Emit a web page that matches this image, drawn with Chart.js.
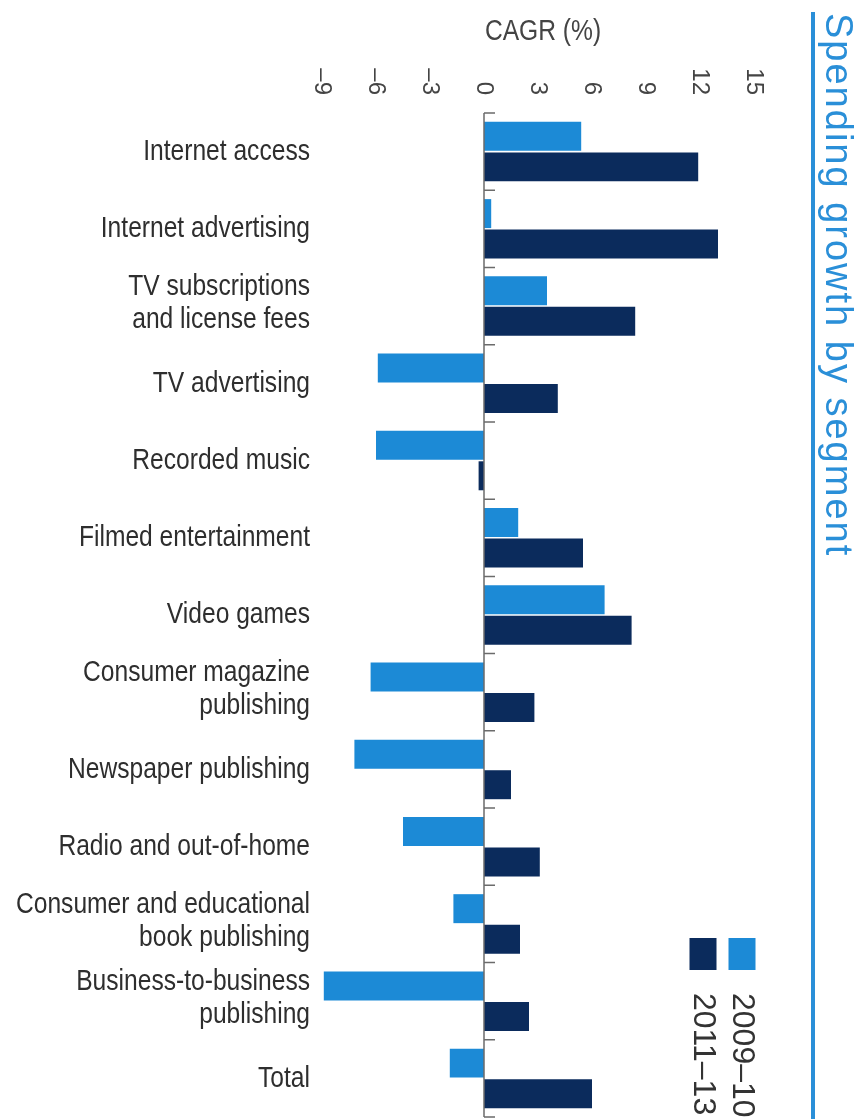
<!DOCTYPE html>
<html>
<head>
<meta charset="utf-8">
<title>Spending growth by segment</title>
<script src="https://cdn.jsdelivr.net/npm/chart.js@4/dist/chart.umd.min.js"></script>
<style>
  html, body { margin: 0; padding: 0; background: #fff; }
  #wrap { position: relative; width: 861px; height: 1119px; }
</style>
</head>
<body>
<div id="wrap"><canvas id="growthChart"></canvas></div>
<script>
// segments, top to bottom (arrays = two-line labels)
const segments = [
  "Internet access",
  "Internet advertising",
  ["TV subscriptions", "and license fees"],
  "TV advertising",
  "Recorded music",
  "Filmed entertainment",
  "Video games",
  ["Consumer magazine", "publishing"],
  "Newspaper publishing",
  "Radio and out-of-home",
  ["Consumer and educational", "book publishing"],
  ["Business-to-business", "publishing"],
  "Total",
];

// CAGR (%)
const cagr2009_10 = [5.4, 0.4, 3.5, -5.9, -6.0, 1.9, 6.7, -6.3, -7.2, -4.5, -1.7, -8.9, -1.9];
const cagr2011_13 = [11.9, 13.0, 8.4, 4.1, -0.3, 5.5, 8.2, 2.8, 1.5, 3.1, 2.0, 2.5, 6.0];

const seriesLabels = ["2009\u201310", "2011\u201313"];
const xTicks = [-9, -6, -3, 0, 3, 6, 9, 12, 15];

const lightBlue = "#1c8ad6";
const navy = "#0b2b5c";
const titleBlue = "#2a8fd8";

const plain = "'Liberation Sans', Arial, sans-serif";

// no narrow font installed, so squeeze the regular one
function squeezedText(ctx, text, x, y, align, angle) {
  ctx.save();
  ctx.translate(x, y);
  if (angle) ctx.rotate(angle);
  ctx.scale(0.82, 1);
  ctx.textAlign = align;
  ctx.textBaseline = "middle";
  ctx.fillText(text, 0, 0);
  ctx.restore();
}

// text turned 90deg clockwise (reads top to bottom)
function rotatedText(ctx, text, x, y, align) {
  ctx.save();
  ctx.translate(x, y);
  ctx.rotate(Math.PI / 2);
  ctx.textAlign = align;
  ctx.textBaseline = "middle";
  ctx.fillText(text, 0, 0);
  ctx.restore();
}

// zero axis, labels, title and legend
const decorPlugin = {
  id: "decor",
  afterDatasetsDraw(chart) {
    const { ctx, chartArea } = chart;
    const x = chart.scales.x;
    const y = chart.scales.y;
    const x0 = x.getPixelForValue(0);

    ctx.save();
    ctx.strokeStyle = "#6b6b6b";
    ctx.lineWidth = 1.5;
    ctx.beginPath();
    ctx.moveTo(x0, chartArea.top);
    ctx.lineTo(x0, chartArea.bottom);
    for (let i = 0; i <= segments.length; i++) {
      const yy = y.getPixelForValue(i - 0.5);
      ctx.moveTo(x0, yy);
      ctx.lineTo(x0 + 11, yy);
    }
    ctx.stroke();

    // segment labels
    ctx.fillStyle = "#2e2e2e";
    ctx.font = "30px " + plain;
    segments.forEach(function (lab, i) {
      const cy = y.getPixelForValue(i);
      const lines = Array.isArray(lab) ? lab : [lab];
      const top = cy - ((lines.length - 1) * 33) / 2 - (lines.length - 1) * 3;
      lines.forEach(function (line, j) {
        squeezedText(ctx, line, 310, top + j * 33, "right");
      });
    });

    // axis title
    ctx.fillStyle = "#444";
    squeezedText(ctx, "CAGR (%)", 543, 32, "center");

    // x tick labels
    ctx.font = "24px " + plain;
    x.ticks.forEach(function (t) {
      const label = t.value < 0 ? "\u2013" + Math.abs(t.value) : String(t.value);
      rotatedText(ctx, label, x.getPixelForValue(t.value), 95, "right");
    });

    // title on the right with its rule
    ctx.fillStyle = titleBlue;
    ctx.fillRect(811, 12, 4, chart.height - 12);
    ctx.font = "38px " + plain;
    if ("letterSpacing" in ctx) ctx.letterSpacing = "2px";
    rotatedText(ctx, "Spending growth by segment", 836, 13, "left");
    if ("letterSpacing" in ctx) ctx.letterSpacing = "0px";

    // legend
    const cols = [742, 703];
    ctx.font = "32px " + plain;
    chart.data.datasets.forEach(function (ds, i) {
      ctx.fillStyle = ds.backgroundColor;
      ctx.fillRect(cols[i] - 13.5, 938, 27, 32);
      ctx.fillStyle = "#333";
      rotatedText(ctx, ds.label, cols[i], 993, "left");
    });
    ctx.restore();
  },
};

const ctx = document.getElementById("growthChart").getContext("2d");

new Chart(ctx, {
  type: "bar",
  data: {
    labels: segments,
    datasets: [
      {
        label: seriesLabels[0],
        data: cagr2009_10,
        backgroundColor: lightBlue,
        categoryPercentage: 0.79,
        barPercentage: 0.95,
      },
      {
        label: seriesLabels[1],
        data: cagr2011_13,
        backgroundColor: navy,
        categoryPercentage: 0.79,
        barPercentage: 0.95,
      },
    ],
  },
  options: {
    indexAxis: "y",
    responsive: true,
    maintainAspectRatio: false,
    animation: false,
    layout: { padding: { left: 0, right: 107, top: 0, bottom: 2 } },
    plugins: {
      legend: { display: false },
      title: { display: false },
      tooltip: { enabled: false },
    },
    scales: {
      x: {
        type: "linear",
        position: "top",
        min: -9,
        max: 15,
        afterBuildTicks: function (scale) {
          scale.ticks = xTicks.map((v) => ({ value: v }));
        },
        afterFit: function (scale) {
          scale.height = 113;
          scale.paddingLeft = 0;
          scale.paddingRight = 0;
        },
        ticks: { display: false },
        grid: { display: false },
        border: { display: false },
      },
      y: {
        afterFit: function (scale) {
          scale.width = 322;
          scale.paddingTop = 0;
          scale.paddingBottom = 0;
        },
        grid: { display: false },
        border: { display: false },
        ticks: { display: false },
      },
    },
  },
  plugins: [decorPlugin],
});
</script>
</body>
</html>
